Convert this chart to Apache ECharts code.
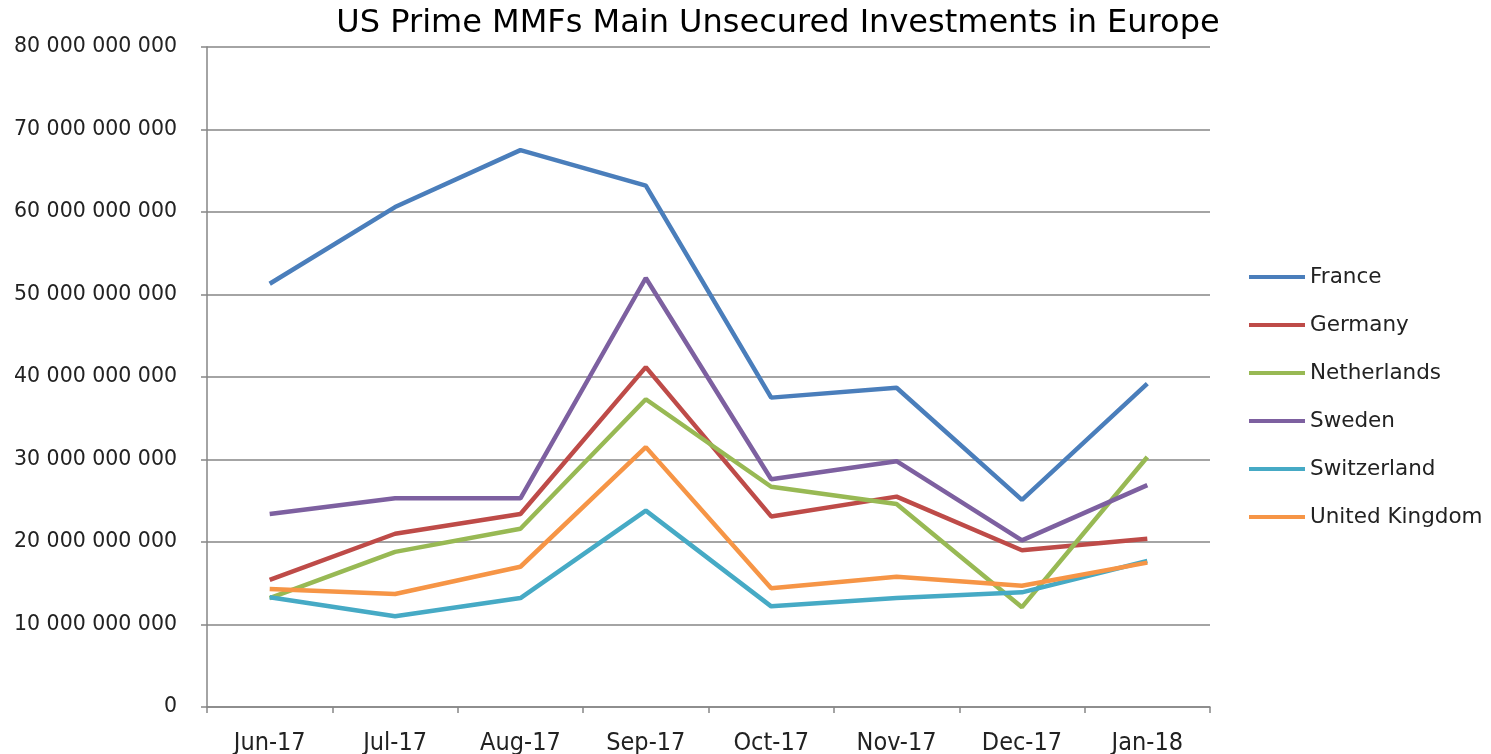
<!DOCTYPE html>
<html>
<head>
<meta charset="utf-8">
<script src="https://cdn.jsdelivr.net/npm/echarts@6/dist/echarts.min.js"></script>
<style>
  html, body { margin: 0; padding: 0; background: #fff; }
  #chart { width: 1491px; height: 754px; }
</style>
</head>
<body>
<div id="chart"></div>
<script>
const months = ["Jun-17", "Jul-17", "Aug-17", "Sep-17", "Oct-17", "Nov-17", "Dec-17", "Jan-18"]

// values in billions, scaled below
const france      = [51.3, 60.6, 67.5, 63.2, 37.5, 38.7, 25.1, 39.2]
const germany     = [15.4, 21.0, 23.4, 41.2, 23.1, 25.5, 19.0, 20.4]
const netherlands = [13.2, 18.8, 21.6, 37.3, 26.7, 24.6, 12.1, 30.3]
const sweden      = [23.4, 25.3, 25.3, 52.0, 27.6, 29.8, 20.2, 26.9]
const switzerland = [13.3, 11.0, 13.2, 23.8, 12.2, 13.2, 13.9, 17.7]
const uk          = [14.3, 13.7, 17.0, 31.5, 14.4, 15.8, 14.7, 17.5]

const seriesDefs = [
    { name: "France", data: france, color: "#4A7EBB" },
    { name: "Germany", data: germany, color: "#BE4B48" },
    { name: "Netherlands", data: netherlands, color: "#98B954" },
    { name: "Sweden", data: sweden, color: "#7D60A0" },
    { name: "Switzerland", data: switzerland, color: "#46AAC5" },
    { name: "United Kingdom", data: uk, color: "#F69546" },
]

function spaced(v) {
    return String(Math.round(v)).replace(/\B(?=(\d{3})+(?!\d))/g, " ")
}

const chart = echarts.init(document.getElementById("chart"), null, { renderer: "canvas" })

chart.setOption({
    animation: false,
    backgroundColor: "#fff",
    title: {
        text: "US Prime MMFs Main Unsecured Investments in Europe",
        left: 773,
        top: 3,
        textAlign: "center",
        textStyle: { fontFamily: "DejaVu Sans", fontSize: 32, fontWeight: "normal", color: "#000" },
    },
    legend: {
        orient: "vertical",
        left: 1249,
        top: 265,
        padding: 0,
        icon: "rect",
        itemWidth: 56,
        itemHeight: 4,
        itemGap: 24,
        textStyle: { fontFamily: "DejaVu Sans", fontSize: 21.5, color: "#222", lineHeight: 24 },
        data: seriesDefs.map(s => s.name),
    },
    grid: { left: 207, right: 281, top: 47, bottom: 47, containLabel: false, outerBoundsMode: "none" },
    xAxis: {
        type: "category",
        data: months,
        boundaryGap: true,
        axisLine: { lineStyle: { color: "#868686", width: 1.5 } },
        axisTick: { show: true, length: 6, inside: false, lineStyle: { color: "#868686", width: 1.5 } },
        axisLabel: {
            margin: 24,
            fontFamily: "DejaVu Sans Condensed, Liberation Sans Narrow, sans-serif",
            fontSize: 25,
            color: "#222",
        },
    },
    yAxis: {
        type: "value",
        min: 0,
        max: 80e9,
        interval: 10e9,
        axisLine: { show: true, lineStyle: { color: "#868686", width: 1.5 } },
        axisTick: { show: true, length: 6, lineStyle: { color: "#868686", width: 1.5 } },
        splitLine: { lineStyle: { color: "#868686", width: 1.5 } },
        axisLabel: {
            margin: 30,
            fontFamily: "DejaVu Sans",
            fontSize: 20.5,
            color: "#222",
            formatter: v => spaced(v),
        },
    },
    series: seriesDefs.map(s => ({
        name: s.name,
        type: "line",
        data: s.data.map(v => v * 1e9),
        showSymbol: false,
        symbol: "none",
        color: s.color,
        lineStyle: { width: 4.5, color: s.color },
    })),
})
</script>
</body>
</html>
